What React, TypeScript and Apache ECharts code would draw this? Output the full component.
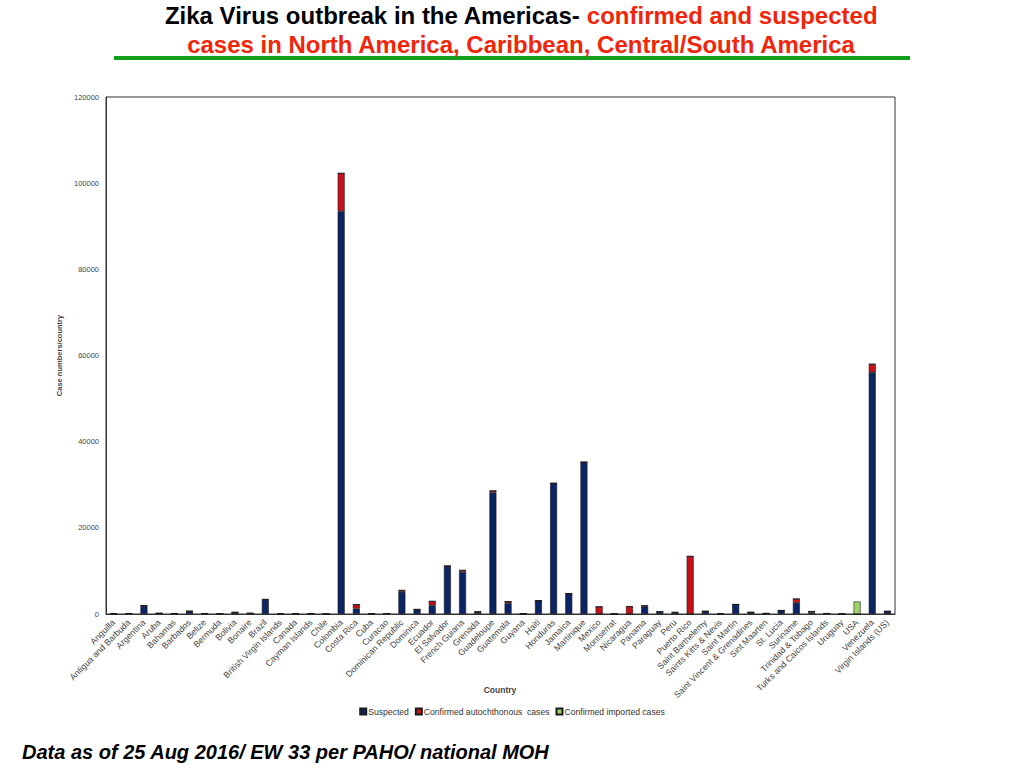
import React, { useEffect, useRef } from "react";
import * as echarts from "echarts";

const categories = [
  "Anguilla", "Antigua and Barbuda", "Argentina", "Aruba", "Bahamas", "Barbados", "Belize", "Bermuda",
  "Bolivia", "Bonaire", "Brazil", "British Virgin Islands", "Canada", "Cayman Islands", "Chile", "Colombia",
  "Costa Rica", "Cuba", "Curacao", "Dominican Republic", "Dominica", "Ecuador", "El Salvador", "French Guiana",
  "Grenada", "Guadeloupe", "Guatemala", "Guyana", "Haiti", "Honduras", "Jamaica", "Martinique", "Mexico",
  "Montserrat", "Nicaragua", "Panama", "Paraguay", "Peru", "Puerto Rico", "Saint Barthelemy",
  "Saints Kitts & Nevis", "Saint Martin", "Saint Vincent & Grenadines", "Sint Maarten", "St. Lucia",
  "Suriname", "Trinidad & Tobago", "Turks and Caicos Islands", "Uruguay", "USA", "Venezuela",
  "Virgin Islands (US)",
];

const suspected = [
  40, 100, 1900, 150, 100, 600, 100, 50,
  350, 150, 3300, 0, 0, 100, 0, 93500,
  1250, 0, 100, 5150, 1000, 2000, 11100, 9750,
  450, 28200, 2500, 50, 3100, 30300, 4700, 35200, 0,
  0, 0, 1700, 500, 300, 0, 600,
  0, 2200, 350, 100, 800,
  2600, 400, 100, 0, 0, 56100,
  600,
];

const confirmedAutochthonous = [
  20, 20, 80, 20, 20, 60, 20, 30,
  40, 20, 100, 0, 0, 20, 0, 8800,
  950, 100, 20, 350, 80, 950, 50, 400,
  80, 400, 400, 50, 5, 50, 50, 50, 1700,
  10, 1750, 250, 50, 100, 13400, 30,
  10, 20, 50, 50, 30,
  900, 200, 30, 0, 0, 1900,
  30,
];

const confirmedImported = [
  0, 0, 0, 0, 0, 0, 0, 0,
  0, 0, 0, 0, 100, 0, 0, 0,
  0, 0, 0, 0, 0, 0, 0, 0,
  0, 0, 0, 0, 0, 0, 0, 0, 0,
  0, 0, 0, 0, 0, 0, 0,
  0, 0, 0, 0, 0,
  0, 0, 0, 0, 2900, 0,
  0,
];

const yTicks = { min: 0, max: 120000, interval: 20000 };

const seriesNames = ["Suspected", "Confirmed autochthonous  cases", "Confirmed imported cases"];
const seriesColors = ["#0b2463", "#c8101a", "#9dd46a"];

export default function App() {
  const ref = useRef<HTMLDivElement>(null);

  useEffect(() => {
    if (!ref.current) return;
    const chart = echarts.init(ref.current, null, { renderer: "svg" });
    const datasets = [suspected, confirmedAutochthonous, confirmedImported];
    const font = "'Liberation Sans', Arial, sans-serif";
    chart.setOption({
      animation: false,
      backgroundColor: "#ffffff",
      textStyle: { fontFamily: font },
      title: {
        left: 521,
        top: 1,
        padding: 0,
        textAlign: "center",
        text:
          "{a|Zika Virus outbreak in the Americas- }{b|confirmed and suspected}\n{b|cases in North America, Caribbean, Central/South America}",
        textStyle: {
          rich: {
            a: { fontFamily: font, fontWeight: "bold", fontSize: 24, color: "#000000", lineHeight: 29 },
            b: { fontFamily: font, fontWeight: "bold", fontSize: 24, color: "#f0250a", lineHeight: 29 },
          },
        },
      },
      graphic: [
        {
          type: "rect",
          shape: { x: 114, y: 56, width: 796, height: 4 },
          style: { fill: "#12a01a" },
        },
        {
          type: "text",
          style: {
            text: "Country",
            x: 500,
            y: 690,
            align: "center",
            verticalAlign: "middle",
            fontFamily: font,
            fontSize: 8.5,
            fontWeight: "bold",
            fill: "#444444",
          },
        },
        {
          type: "text",
          style: {
            text: "Data as of 25 Aug 2016/ EW 33 per PAHO/ national MOH",
            x: 22,
            y: 752,
            verticalAlign: "middle",
            fontFamily: font,
            fontSize: 20,
            fontWeight: "bold",
            fontStyle: "italic",
            fill: "#000000",
          },
        },
      ],
      legend: {
        bottom: 47,
        left: "center",
        itemWidth: 6,
        itemHeight: 6,
        itemGap: 6,
        icon: "rect",
        data: seriesNames,
        textStyle: { fontSize: 8.6, color: "#333333", fontFamily: font, padding: [0, 0, 0, -3] },
      },
      grid: {
        left: 106,
        top: 97,
        right: 129,
        bottom: 154,
        show: true,
        borderColor: "#333333",
        borderWidth: 1,
      },
      xAxis: {
        type: "category",
        data: categories,
        axisTick: { show: false },
        axisLine: { lineStyle: { color: "#333333" } },
        axisLabel: {
          interval: 0,
          rotate: 45,
          fontSize: 8.7,
          color: "#444444",
          margin: 7,
          fontFamily: font,
        },
      },
      yAxis: {
        type: "value",
        min: yTicks.min,
        max: yTicks.max,
        interval: yTicks.interval,
        name: "Case numbers/country",
        nameLocation: "middle",
        nameGap: 31,
        nameTextStyle: { fontSize: 7.5, color: "#444444", fontWeight: "bold", fontFamily: font },
        splitLine: { show: false },
        axisTick: { show: false },
        axisLine: { show: true, lineStyle: { color: "#333333" } },
        axisLabel: {
          fontSize: 7.5,
          color: "#444444",
          margin: 7,
          fontFamily: font,
          formatter: (v: number) => String(v),
        },
      },
      series: datasets.map((d, i) => ({
        name: seriesNames[i],
        type: "bar",
        stack: "total",
        barWidth: "46%",
        data: d,
        itemStyle: { color: seriesColors[i], borderColor: "#1a1a1a", borderWidth: 0.6 },
      })),
    });
    return () => chart.dispose();
  }, []);

  return (
    <div
      ref={ref}
      style={{ position: "fixed", left: 0, top: 0, width: 1024, height: 768 }}
    />
  );
}
